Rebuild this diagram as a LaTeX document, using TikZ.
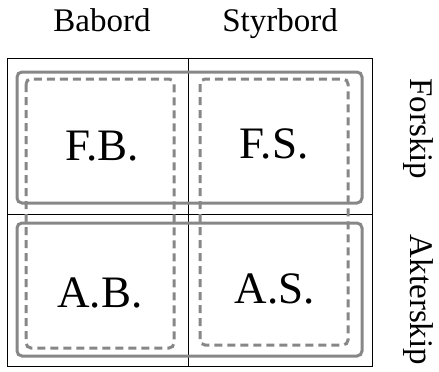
\documentclass[tikz,border=0pt]{standalone}
\usepackage{fontspec}
\setmainfont{Liberation Serif}
\begin{document}
\begin{tikzpicture}[x=1pt,y=-1pt,
  grid/.style={draw=black,line width=1pt},
  zone/.style={draw=black!47,line width=3pt,rounded corners=5pt},
  side/.style={draw=black!47,line width=3pt,rounded corners=5pt,dash pattern=on 8pt off 5pt},
  cell/.style={font=\fontsize{45}{45}\selectfont,anchor=base,inner sep=0pt},
  head/.style={font=\fontsize{33}{33}\selectfont,anchor=base,inner sep=0pt}]
\useasboundingbox (0,0) rectangle (439,372);
% deck grid
\draw[grid] (7,58) rectangle (372,366);
\coordinate (gt) at (188,58);
\coordinate (gb) at (188,366);
\coordinate (gl) at (7,214);
\coordinate (gr) at (372,214);
\draw[grid] (gt) -- (gb);
\draw[grid] (gl) -- (gr);
% fore and aft zones
\draw[zone] (17,72) rectangle (362,203);
\draw[zone] (17,223) rectangle (362,356);
% port and starboard zones
\draw[side] (26,79) rectangle (174,348);
\draw[side] (200,79) rectangle (348,345);
% quadrant labels
\node[cell] (fb) at (102,160) {F.B.};
\node[cell] (fs) at (274,158) {F.S.};
\node[cell] (ab) at (100,307) {A.B.};
\node[cell] (as) at (275,303) {A.S.};
% side labels
\node[head] (babord) at (102,31) {Babord};
\node[head] (styrbord) at (280,31) {Styrbord};
\node[head,rotate=-90] (forskip) at (410,129) {Forskip};
\node[head,rotate=-90] (akterskip) at (410,300) {Akterskip};
\end{tikzpicture}
\end{document}
